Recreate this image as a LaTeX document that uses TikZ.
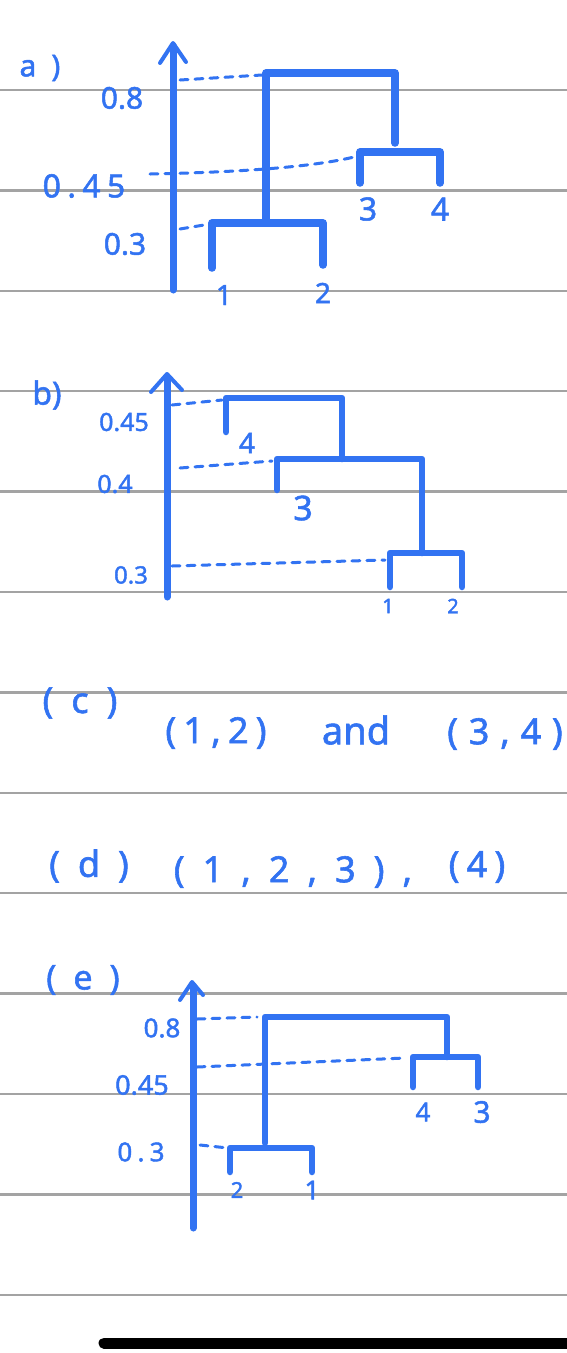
\documentclass[tikz,border=0pt]{standalone}
\usepackage{fontspec}
\setmainfont[FakeBold=1.6]{Noto Sans}
\newfontfamily\wide[LetterSpace=20,FakeBold=1.6]{Noto Sans}
\newfontfamily\widec[LetterSpace=30,FakeBold=1.6]{Noto Sans}
\newfontfamily\wider[LetterSpace=50,FakeBold=1.6]{Noto Sans}
\definecolor{ink}{HTML}{3273F2}
\definecolor{rule}{HTML}{A3A3A3}
\tikzset{
  ruleline/.style={draw=rule, line width=2.5pt},
  tree/.style={draw=ink, line width=7.5pt, line cap=round, line join=round},
  treeb/.style={draw=ink, line width=6.5pt, line cap=round, line join=round},
  axisline/.style={draw=ink, line width=7pt, line cap=round},
  barb/.style={draw=ink, line width=4pt, line cap=round, line join=round},
  guide/.style={draw=ink, line width=3pt, line cap=round, dash pattern=on 8pt off 7pt},
  lbl/.style={text=ink, inner sep=0pt, anchor=center},
}
\begin{document}
\begin{tikzpicture}[x=1pt,y=-1pt]
\useasboundingbox (0,0) rectangle (567,1353);
\fill[white] (0,0) rectangle (567,1353);
% ruled paper
\foreach \k in {0,...,12} {
  \draw[ruleline] (0,{90+100.4*\k}) -- (567,{90+100.4*\k});
}
% home bar
\draw[black, line width=11pt, line cap=round] (104,1343) -- (575,1343);

% ---------------- a) ----------------
\node[lbl, font=\wider\fontsize{30}{30}\selectfont] (la) at (40,68) {a)};
\draw[axisline] (173,290) -- (173,46);
\draw[barb] (160,63) -- (173,43) -- (186,62);
\draw[tree] (266,220) -- (266,73) -- (395,73) -- (395,143);
\draw[tree] (360,183) -- (360,152) -- (440,152) -- (440,183);
\draw[tree] (212,268) -- (212,223) -- (323,223) -- (323,265);
\draw[guide] (180,80) -- (262,75);
\draw[guide] (150,174) .. controls (250,172) and (320,166) .. (358,156);
\draw[guide] (180,229) -- (210,224);
\node[lbl, font=\fontsize{30}{30}\selectfont] (a08) at (122,98) {0.8};
\node[lbl, font=\wide\fontsize{32}{32}\selectfont] (a045) at (84,186) {0.45};
\node[lbl, font=\fontsize{30}{30}\selectfont] (a03) at (125,244) {0.3};
\node[lbl, font=\fontsize{28}{28}\selectfont] (a1) at (224,295) {1};
\node[lbl, font=\fontsize{28}{28}\selectfont] (a2) at (323,293) {2};
\node[lbl, font=\fontsize{32}{32}\selectfont] (a3) at (368,209) {3};
\node[lbl, font=\fontsize{32}{32}\selectfont] (a4) at (440,209) {4};

% ---------------- b) ----------------
\node[lbl, font=\fontsize{32}{32}\selectfont] (lb) at (47,395) {b)};
\draw[axisline] (167,597) -- (167,378);
\draw[barb] (151,392) -- (167,374) -- (182,390);
\draw[treeb] (226,432) -- (226,398) -- (342,398) -- (342,459);
\draw[treeb] (277,490) -- (277,459) -- (422,459) -- (422,553);
\draw[treeb] (390,587) -- (390,553) -- (462,553) -- (462,587);
\draw[guide] (172,405) -- (222,400);
\draw[guide] (180,468) -- (272,461);
\draw[guide] (172,566) -- (385,560);
\node[lbl, font=\fontsize{25}{25}\selectfont] (b045) at (124,422) {0.45};
\node[lbl, font=\fontsize{25}{25}\selectfont] (b04) at (115,484) {0.4};
\node[lbl, font=\fontsize{24}{24}\selectfont] (b03) at (131,575) {0.3};
\node[lbl, font=\fontsize{28}{28}\selectfont] (b4) at (247,443) {4};
\node[lbl, font=\fontsize{34}{34}\selectfont] (b3) at (303,508) {3};
\node[lbl, font=\fontsize{20}{20}\selectfont] (b1) at (388,606) {1};
\node[lbl, font=\fontsize{20}{20}\selectfont] (b2) at (453,606) {2};

% ---------------- (c) ----------------
\node[lbl, font=\wider\fontsize{36}{36}\selectfont] (lc) at (80,703) {(c)};
\node[lbl, font=\wide\fontsize{36}{36}\selectfont] (c12) at (216,733) {(1,2)};
\node[lbl, font=\fontsize{38}{38}\selectfont] (cand) at (356,730) {and};
\node[lbl, font=\widec\fontsize{36}{36}\selectfont] (c34) at (505,734) {(3,4)};

% ---------------- (d) ----------------
\node[lbl, font=\wider\fontsize{36}{36}\selectfont] (ld) at (89,866) {(d)};
\node[lbl, font=\wider\fontsize{36}{36}\selectfont] (d123) at (293,872) {(1,2,3),};
\node[lbl, font=\wide\fontsize{36}{36}\selectfont] (d4) at (477,867) {(4)};

% ---------------- (e) ----------------
\node[lbl, font=\wider\fontsize{34}{34}\selectfont] (le) at (83,980) {(e)};
\draw[axisline] (193,1228) -- (193,986);
\draw[barb] (180,1000) -- (192,982) -- (203,995);
\draw[treeb] (265,1143) -- (265,1017) -- (447,1017) -- (447,1057);
\draw[treeb] (413,1087) -- (413,1057) -- (478,1057) -- (478,1087);
\draw[treeb] (230,1172) -- (230,1148) -- (312,1148) -- (312,1172);
\draw[guide] (197,1019) -- (257,1017);
\draw[guide] (197,1067) -- (405,1058);
\draw[guide] (200,1145) -- (228,1148);
\node[lbl, font=\fontsize{26}{26}\selectfont] (e08) at (162,1028) {0.8};
\node[lbl, font=\fontsize{27}{27}\selectfont] (e045) at (142,1085) {0.45};
\node[lbl, font=\wide\fontsize{26}{26}\selectfont] (e03) at (141,1152) {0.3};
\node[lbl, font=\fontsize{26}{26}\selectfont] (e4) at (423,1112) {4};
\node[lbl, font=\fontsize{30}{30}\selectfont] (e3) at (482,1112) {3};
\node[lbl, font=\fontsize{22}{22}\selectfont] (e2) at (237,1190) {2};
\node[lbl, font=\fontsize{26}{26}\selectfont] (e1) at (312,1190) {1};
\end{tikzpicture}
\end{document}
